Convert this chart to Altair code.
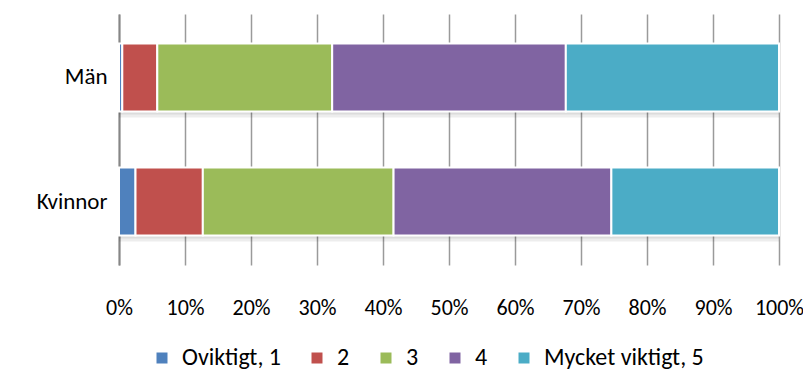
import altair as alt
import pandas as pd

categories = ["Män", "Kvinnor"]
series = ["Oviktigt, 1", "2", "3", "4", "Mycket viktigt, 5"]
colors = ["#4F81BD", "#C0504D", "#9BBB59", "#8064A2", "#4BACC6"]
man_values = [0.5, 5.3, 26.5, 35.4, 32.3]
kvinnor_values = [2.5, 10.2, 28.9, 33.0, 25.4]
x_ticks = [0, 0.1, 0.2, 0.3, 0.4, 0.5, 0.6, 0.7, 0.8, 0.9, 1.0]

rows = []
for cat, vals in zip(categories, [man_values, kvinnor_values]):
    for i, (s, v) in enumerate(zip(series, vals)):
        rows.append({"kategori": cat, "svar": s, "idx": i, "andel": v})
df = pd.DataFrame(rows)

shadow_df = pd.DataFrame({"kategori": categories, "start": [0, 0], "slut": [1, 1]})

FONT = "Carlito, Calibri, 'Liberation Sans Narrow', 'Liberation Sans', sans-serif"
FS_AXIS = 22
FS_LEG = 24

yscale = alt.Scale(domain=categories, paddingInner=0.452, paddingOuter=0.238)
xscale = alt.Scale(domain=[0, 1])

shadow1 = alt.Chart(shadow_df).mark_bar(color="#000000", opacity=0.07, yOffset=6).encode(
    y=alt.Y("kategori:N", scale=yscale, sort=categories, title=None),
    x=alt.X("start:Q", scale=xscale),
    x2="slut:Q",
)
shadow2 = alt.Chart(shadow_df).mark_bar(color="#000000", opacity=0.07, yOffset=3).encode(
    y=alt.Y("kategori:N", scale=yscale, sort=categories, title=None),
    x=alt.X("start:Q", scale=xscale),
    x2="slut:Q",
)

bars = alt.Chart(df).mark_bar(stroke="white", strokeWidth=2).encode(
    y=alt.Y("kategori:N", scale=yscale, sort=categories, title=None,
            axis=alt.Axis(domain=True, domainColor="#868686", domainWidth=2,
                          ticks=False, labelFontSize=23, labelFont=FONT,
                          labelColor="#000000", labelPadding=12)),
    x=alt.X("andel:Q", stack="normalize", title=None, scale=xscale,
            axis=alt.Axis(values=x_ticks, format=".0%", domain=False, ticks=False,
                          grid=True, gridColor="#9a9a9a", gridWidth=1.5,
                          labelFontSize=FS_AXIS, labelFont=FONT, labelColor="#000000",
                          labelPadding=32, labelFlush=False, labelOverlap=False,
                          labelBound=False)),
    color=alt.Color("svar:N", scale=alt.Scale(domain=series, range=colors),
                    legend=alt.Legend(orient="none", direction="horizontal",
                                      legendX=31, legendY=332, title=None,
                                      symbolType="square", symbolSize=121,
                                      symbolStrokeWidth=0, labelFontSize=FS_LEG,
                                      labelFont=FONT, labelColor="#000000",
                                      columnPadding=24, labelOffset=8,
                                      labelLimit=300)),
    order=alt.Order("idx:Q"),
)

chart = alt.layer(shadow1, shadow2, bars).properties(
    width=660, height=251,
    autosize=alt.AutoSizeParams(type="none"),
    padding={"left": 111, "top": 6, "right": 24, "bottom": 118},
).configure_view(stroke=None)

chart.save("out.html", embed_options={"renderer": "svg", "actions": False})
